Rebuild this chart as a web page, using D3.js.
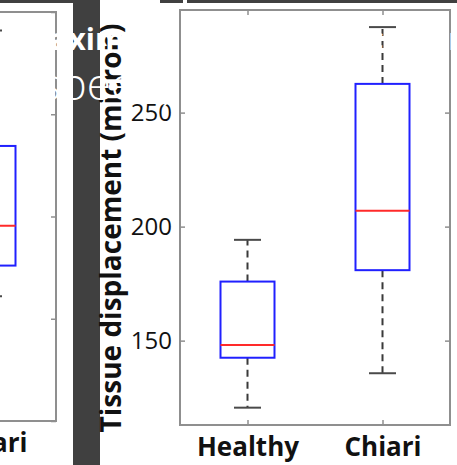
<!DOCTYPE html>
<html>
<head>
<meta charset="utf-8">
<script src="https://cdn.jsdelivr.net/npm/d3@7"></script>
<style>
  html, body { margin: 0; padding: 0; background: #404040; }
  svg { display: block; }
</style>
</head>
<body>
<svg id="chart" width="457" height="465"></svg>
<script>
// ---- Data ----
const categories = ["Healthy", "Chiari"];
const whiskerLow  = [120.6, 135.7];
const q1Values    = [142.5, 180.9];
const medians     = [148.1, 207.0];
const q3Values    = [175.9, 262.6];
const whiskerHigh = [194.2, 287.5];
const yTicks = [150, 200, 250];
const yDomain = [113, 295];
const yLabel = "Tissue displacement (micron)";

// left, cropped neighbouring chart (only its "Chiari" box is in view)
const leftCategories = ["Healthy", "Chiari"];
const leftVisible    = ["Chiari"];
const leftLow  = [1.22];
const leftQ1   = [1.52];
const leftMed  = [1.91];
const leftQ3   = [2.69];
const leftHigh = [3.82];
const leftTicks = [0, 1, 2, 3, 4];
const leftDomain = [0, 4];

// overlaid slide title text (white)
const titleLine1 = "Maximum tissue displacement";
const titleLine2 = "(speed)";

const svg = d3.select("#chart");
const W = 457, H = 465;
const DARK = "#404040";

// backgrounds
svg.append("rect").attr("width", W).attr("height", H).attr("fill", DARK);
svg.append("rect").attr("x", 0).attr("y", 3).attr("width", 73).attr("height", H - 3).attr("fill", "#fff");
svg.append("rect").attr("x", 100).attr("y", 0).attr("width", W - 100).attr("height", H).attr("fill", "#fff");
svg.append("rect").attr("x", 160).attr("y", 0).attr("width", W - 160).attr("height", 3).attr("fill", DARK);
svg.append("rect").attr("x", 183).attr("y", 0).attr("width", 4).attr("height", 3).attr("fill", "#fff");

function drawPanel(opts) {
  const g = svg.append("g");
  const x = d3.scalePoint().domain(opts.cats).range([opts.x0, opts.x1]).padding(0.5);
  const y = d3.scaleLinear().domain(opts.domain).range([opts.y1, opts.y0]);
  const frameColor = "#8f8f8f";

  // frame
  g.append("rect")
    .attr("x", opts.x0).attr("y", opts.y0)
    .attr("width", opts.x1 - opts.x0).attr("height", opts.y1 - opts.y0)
    .attr("fill", "none").attr("stroke", frameColor).attr("stroke-width", 2);

  const styleAxis = sel => {
    sel.select(".domain").remove();
    sel.selectAll(".tick line").attr("stroke", frameColor).attr("stroke-width", 1.5);
  };

  // left axis with labels
  const la = g.append("g").attr("transform", `translate(${opts.x0},0)`)
    .call(d3.axisLeft(y).tickValues(opts.ticks).tickSize(-5).tickPadding(8)
      .tickFormat(opts.showYLabels ? d3.format("d") : ""));
  styleAxis(la);
  la.selectAll("text").attr("font-family", "'Open Sans', sans-serif")
    .attr("font-size", 24).attr("fill", "#111");

  // right axis ticks
  styleAxis(g.append("g").attr("transform", `translate(${opts.x1},0)`)
    .call(d3.axisRight(y).tickValues(opts.ticks).tickSize(-5).tickFormat("")));
  // top axis ticks
  styleAxis(g.append("g").attr("transform", `translate(0,${opts.y0})`)
    .call(d3.axisTop(x).tickSize(-5).tickFormat("")));
  // bottom axis with category labels
  const ba = g.append("g").attr("transform", `translate(0,${opts.y1})`)
    .call(d3.axisBottom(x).tickSize(-5).tickPadding(13));
  styleAxis(ba);
  ba.selectAll("text").attr("font-family", "'Open Sans', sans-serif")
    .attr("font-weight", "bold").attr("font-size", 26).attr("fill", "#111");

  // boxes
  const boxHalf = 27, capHalf = 13.5;
  opts.data.forEach(d => {
    const cx = x(d.cat);
    // whiskers (dashed)
    g.append("line").attr("x1", cx).attr("x2", cx)
      .attr("y1", y(d.q3)).attr("y2", y(d.high))
      .attr("stroke", "#3a3a3a").attr("stroke-width", 2).attr("stroke-dasharray", "7,5");
    g.append("line").attr("x1", cx).attr("x2", cx)
      .attr("y1", y(d.q1)).attr("y2", y(d.low))
      .attr("stroke", "#3a3a3a").attr("stroke-width", 2).attr("stroke-dasharray", "7,5");
    // caps
    [d.high, d.low].forEach(v => {
      g.append("line").attr("x1", cx - capHalf).attr("x2", cx + capHalf)
        .attr("y1", y(v)).attr("y2", y(v))
        .attr("stroke", "#4a4a4a").attr("stroke-width", 2);
    });
    // box
    g.append("rect").attr("x", cx - boxHalf).attr("y", y(d.q3))
      .attr("width", boxHalf * 2).attr("height", y(d.q1) - y(d.q3))
      .attr("fill", "none").attr("stroke", "#2020ff").attr("stroke-width", 2);
    // median
    g.append("line").attr("x1", cx - boxHalf).attr("x2", cx + boxHalf)
      .attr("y1", y(d.med)).attr("y2", y(d.med))
      .attr("stroke", "#ff2a2a").attr("stroke-width", 2);
  });
  return { x, y, g };
}

// left, cropped chart
drawPanel({
  cats: leftCategories, x0: -214, x1: 56, y0: 12, y1: 421,
  domain: leftDomain, ticks: leftTicks, showYLabels: false,
  data: leftVisible.map((c, i) => ({ cat: c, low: leftLow[i], q1: leftQ1[i], med: leftMed[i], q3: leftQ3[i], high: leftHigh[i] }))
});

// dark divider strip
svg.append("rect").attr("x", 73).attr("y", 0).attr("width", 27).attr("height", H).attr("fill", DARK);

// main chart
drawPanel({
  cats: categories, x0: 180, x1: 450, y0: 10, y1: 425,
  domain: yDomain, ticks: yTicks, showYLabels: true,
  data: categories.map((c, i) => ({ cat: c, low: whiskerLow[i], q1: q1Values[i], med: medians[i], q3: q3Values[i], high: whiskerHigh[i] }))
});

// y-axis title
svg.append("text")
  .attr("transform", "translate(121,228) rotate(-90)")
  .attr("text-anchor", "middle")
  .attr("font-family", "'Open Sans', sans-serif")
  .attr("font-weight", "bold").attr("font-size", 28).attr("fill", "#111")
  .text(yLabel);

// overlaid white slide title text
svg.append("text").attr("x", 22).attr("y", 50)
  .attr("font-family", "'Open Sans', sans-serif").attr("font-weight", "bold")
  .attr("font-size", 30).attr("fill", "#fff").text(titleLine1);
svg.append("text").attr("x", 28).attr("y", 100)
  .attr("font-family", "'Open Sans', sans-serif").attr("font-weight", 300)
  .attr("font-size", 44).attr("fill", "#fff").text(titleLine2);
</script>
</body>
</html>
